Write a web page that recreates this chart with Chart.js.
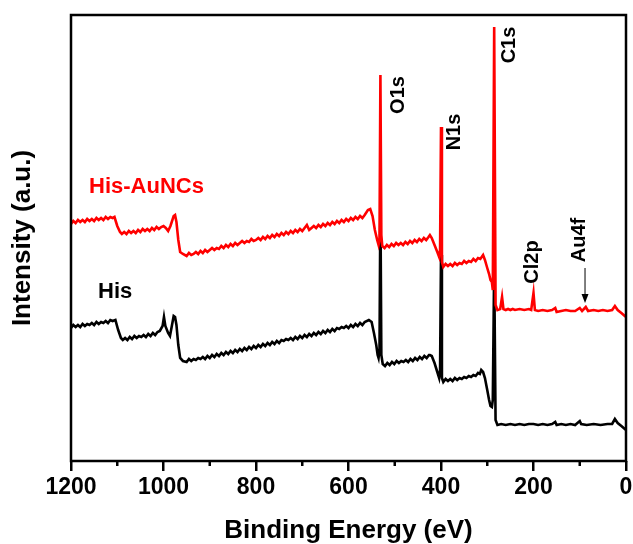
<!DOCTYPE html>
<html><head><meta charset="utf-8">
<script src="https://cdn.jsdelivr.net/npm/chart.js@4/dist/chart.umd.min.js"></script>
<style>html,body{margin:0;padding:0;background:#fff}#wrap{width:633px;height:544px}</style>
</head><body><div id="wrap"><canvas id="c" width="633" height="544"></canvas></div>
<script>
// [binding energy (eV), intensity (a.u.)]
const redSpectrum = [ // His-AuNCs
[1200,237],[1195,240],[1190,238],[1185,241],[1180,239],[1175,241],[1170,239],[1165,242],[1160,240],[1155,242],[1150,240],[1145,243],[1140,241],[1135,243],[1130,241],[1125,244],[1120,242],[1115,244],[1110,243],[1106,244],[1100,235],[1094,229],[1090,227],[1085,229],[1080,227],[1075,230],[1070,228],[1065,230],[1060,228],[1055,231],[1050,229],[1045,232],[1040,230],[1035,232],[1030,230],[1025,233],[1020,231],[1015,234],[1010,232],[1005,234],[1000,235],[995,233],[990,230],[985,235],[978,245],[975,246],[972,239],[968,221],[964,209],[958,207],
[950,205],[945,208],[940,206],[935,207],[930,209],[925,207],[920,210],[915,208],[910,211],[905,209],[900,211],[895,213],[890,211],[885,213],[880,212],[875,215],[870,213],[865,216],[860,214],[855,217],[850,215],[845,218],[840,216],[835,218],[830,220],[825,218],[820,220],[815,219],[810,222],[805,220],[800,221],[795,223],[790,221],[785,224],[780,222],[775,225],[770,223],[765,226],[760,224],[755,227],[750,225],[745,228],[740,226],[735,229],[730,227],[725,230],[720,228],[715,231],[710,229],[705,232],[700,230],[695,233],[690,236],[685,231],[680,233],[675,235],[670,233],[665,236],[660,234],[655,237],[650,235],[645,238],[640,236],[635,239],[630,237],[625,240],[620,238],[615,241],[610,239],[605,242],[600,240],[595,243],[590,241],[585,244],[580,242],[575,245],[570,243],[565,246],
[558,251],[553,252],[548,245],[543,231],[538,221],[535,216],[533,221],[531,386],[529,226],
[527,215],[522,213],[517,216],[512,214],[507,217],[502,215],[497,218],[492,216],[487,218],[482,216],[477,219],[472,217],[467,220],[462,218],[457,221],[452,219],[447,222],[442,220],[437,223],[432,221],[427,224],[424,226],
[420,223],[414,216],[408,209],[404,204],[402,211],[400,334],[398,199],
[395,194],[390,197],[385,195],[380,197],[375,195],[370,198],[365,196],[360,198],[355,197],[350,200],[345,198],[340,200],[335,199],[330,202],[325,200],[320,203],[315,202],[312,204],
[309,206],[305,201],[300,193],[296,187],[293,181],[290,179],[288,171],[285,434],[282,156],[278,151],[272,152],[268,164],[265,152],[260,151],[255,152],[250,151],[245,152],[240,151],[230,152],[220,151],[210,152],[205,151],[200,168],[197,151],[190,150],[180,151],[170,150],[160,151],[153,153],[150,149],[140,150],[130,151],[120,150],[110,150],[100,153],[95,150],[87,154],[82,150],[70,151],[60,150],[50,151],[40,150],[30,151],[24,155],[18,151],[10,148],[5,146],[0,144]
];
const blackSpectrum = [ // His
[1200,133],[1195,136],[1190,134],[1185,136],[1180,134],[1175,137],[1170,135],[1165,137],[1160,136],[1155,138],[1150,136],[1145,139],[1140,137],[1135,139],[1130,138],[1125,140],[1120,138],[1115,141],[1110,140],[1104,141],[1098,131],
[1092,123],[1088,121],[1083,123],[1078,121],[1073,124],[1068,122],[1063,125],[1058,123],[1053,125],[1048,124],[1043,126],[1038,124],[1033,127],[1028,125],[1023,128],[1018,126],[1013,129],[1008,130],
[1002,135],[999,144],[996,135],[990,128],[986,125],[982,135],[978,145],[975,144],[972,136],[968,116],[964,103],[958,100],
[950,99],[945,102],[940,100],[935,102],[930,101],[925,103],[920,102],[915,104],[910,102],[905,105],[900,103],[895,106],[890,104],[885,107],[880,105],[875,108],[870,106],[865,109],[860,107],[855,110],[850,108],[845,111],[840,109],[835,112],[830,110],[825,113],[820,111],[815,114],[810,112],[805,115],[800,113],[795,116],[790,114],[785,117],[780,115],[775,118],[770,116],[765,119],[760,117],[755,120],[750,118],[745,121],[740,120],[735,122],[730,121],[725,123],[720,121],[715,124],[710,122],[705,125],[700,123],[695,126],[690,124],[685,127],[680,125],[675,128],[670,126],[665,129],[660,127],[655,130],[650,128],[645,131],[640,129],[635,132],[630,130],[625,133],[620,132],[615,134],[610,133],[605,135],[600,133],[595,136],[590,134],[585,137],[580,135],[575,138],[570,136],[565,139],
[556,141],[550,139],[545,128],[540,116],[537,106],[535,103],[533,111],[531,261],[529,106],
[526,97],[521,95],[516,98],[511,96],[506,99],[501,97],[496,100],[491,98],[486,100],[481,99],[476,101],[471,99],[466,102],[461,100],[456,103],[451,101],[446,104],[441,102],[436,105],[431,103],[426,106],[424,106],
[420,105],[414,98],[408,89],[404,83],[402,91],[400,206],[398,83],
[395,79],[390,82],[385,80],[380,82],[375,80],[370,83],[365,81],[360,83],[355,82],[350,84],[345,83],[340,85],[335,84],[330,86],[325,85],[320,88],[316,87],[313,91],
[309,89],[305,83],[300,71],[296,61],[293,55],[290,54],[288,61],[285,196],[282,41],[278,36],[270,37],[260,36],[250,37],[240,36],[230,37],[220,36],[210,37],[200,37],[190,36],[180,37],[170,36],[160,37],[153,39],[150,36],[140,37],[130,36],[120,37],[110,36],[100,40],[97,37],[85,36],[70,37],[55,36],[40,37],[30,37],[24,42],[18,38],[10,35],[5,33],[0,31]
];
const seriesNames = ['His-AuNCs','His'];
const xTicks = [0,200,400,600,800,1000,1200];
const minorTicks = [100,300,500,700,900,1100];
const peakLabels = ['O1s','N1s','C1s','Cl2p','Au4f'];
const peakLabelAt = [[493,366],[370,329],[251,416],[203,199],[99.5,221]];

const toPts = arr => arr.map(([x, y]) => ({x, y}));
const FONT = "Arial, 'Liberation Sans', sans-serif";

const decor = {
  id: 'decor',
  afterDraw(chart) {
    const {ctx, chartArea: a, scales: {x, y}} = chart;
    ctx.save();
    ctx.strokeStyle = '#000';
    ctx.lineWidth = 2.5;
    ctx.strokeRect(a.left, a.top, a.right - a.left, a.bottom - a.top);
    ctx.beginPath();
    minorTicks.forEach(v => { const px = x.getPixelForValue(v); ctx.moveTo(px, a.bottom); ctx.lineTo(px, a.bottom + 5); });
    ctx.stroke();
    ctx.fillStyle = '#000';
    ctx.font = 'bold 20px ' + FONT;
    ctx.textAlign = 'center';
    ctx.textBaseline = 'middle';
    peakLabels.forEach((t, i) => {
      const px = x.getPixelForValue(peakLabelAt[i][0]);
      const py = y.getPixelForValue(peakLabelAt[i][1]);
      ctx.save(); ctx.translate(px, py); ctx.rotate(-Math.PI / 2); ctx.fillText(t, 0, 0); ctx.restore();
    });
    const ax = x.getPixelForValue(88.6), ay1 = y.getPixelForValue(193), ay2 = y.getPixelForValue(158);
    ctx.lineWidth = 1;
    ctx.beginPath(); ctx.moveTo(ax, ay1); ctx.lineTo(ax, ay2 - 8); ctx.stroke();
    ctx.beginPath(); ctx.moveTo(ax - 3.5, ay2 - 9); ctx.lineTo(ax + 3.5, ay2 - 9); ctx.lineTo(ax, ay2); ctx.closePath(); ctx.fill();
    ctx.font = 'bold 22px ' + FONT;
    ctx.textAlign = 'left';
    ctx.fillStyle = '#ff0000';
    ctx.fillText(seriesNames[0], x.getPixelForValue(1161), y.getPixelForValue(274));
    ctx.fillStyle = '#000';
    ctx.fillText(seriesNames[1], x.getPixelForValue(1141.6), y.getPixelForValue(169));
    ctx.restore();
  }
};

new Chart(document.getElementById('c'), {
  type: 'line',
  data: {
    datasets: [
      {label: seriesNames[0], data: toPts(redSpectrum), borderColor: '#ff0000', borderWidth: 2.6, pointRadius: 0, tension: 0},
      {label: seriesNames[1], data: toPts(blackSpectrum), borderColor: '#000000', borderWidth: 2.6, pointRadius: 0, tension: 0}
    ]
  },
  options: {
    responsive: false,
    animation: false,
    events: [],
    layout: {padding: {top: 15, right: 7, bottom: 0, left: 0}},
    plugins: {legend: {display: false}, tooltip: {enabled: false}},
    scales: {
      x: {
        type: 'linear', reverse: true, min: 0, max: 1200,
        afterBuildTicks: s => { s.ticks = xTicks.map(v => ({value: v})); },
        afterFit: s => { s.height = 83; },
        grid: {drawOnChartArea: false, drawTicks: true, tickLength: 10, color: '#000', lineWidth: 2.5},
        border: {display: false},
        ticks: {color: '#000', font: {family: FONT, size: 23, weight: 'bold'}, padding: 3, maxRotation: 0, autoSkip: false, callback: v => String(v)},
        title: {display: true, text: 'Binding Energy (eV)', color: '#000', font: {family: FONT, size: 26, weight: 'bold', lineHeight: 1.0}, padding: {top: 0, bottom: 0}}
      },
      y: {
        min: 0, max: 446,
        afterFit: s => { s.width = 71; },
        grid: {display: false},
        border: {display: false},
        ticks: {display: false},
        title: {display: true, text: 'Intensity (a.u.)', color: '#000', font: {family: FONT, size: 26, weight: 'bold', lineHeight: 1.0}, padding: {top: 10, bottom: 0}}
      }
    }
  },
  plugins: [decor]
});
</script></body></html>
